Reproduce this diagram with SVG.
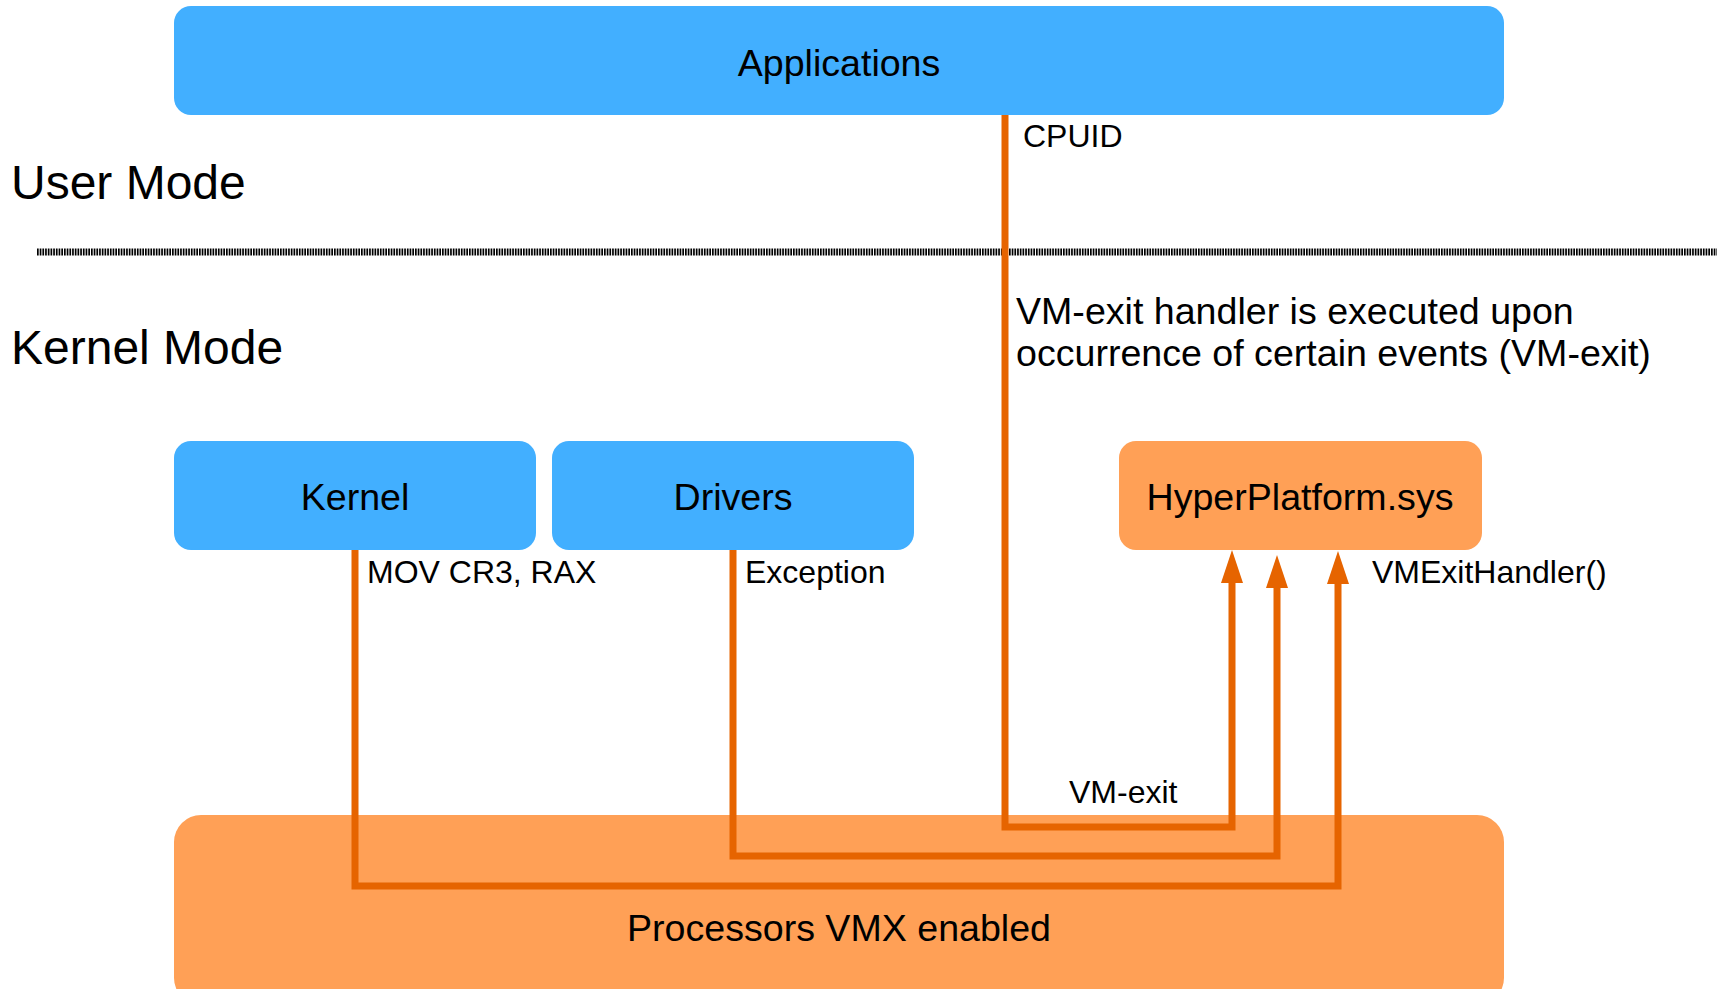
<svg xmlns="http://www.w3.org/2000/svg" width="1717" height="989" viewBox="0 0 1717 989">
  <style>
    .blue { fill: #42AFFF; }
    .orange { fill: #FFA056; }
    .t { font-family: "Liberation Sans", Arial, sans-serif; fill: #000; }
    .node { font-size: 37.6px; text-anchor: middle; }
    .mode { font-size: 48px; }
    .lbl { font-size: 32px; }
    .desc { font-size: 37.6px; }
    .conn { fill: none; stroke: #E66400; stroke-width: 7; stroke-linejoin: miter; }
  </style>
  <defs>
    <marker id="head" markerUnits="userSpaceOnUse" markerWidth="33" markerHeight="24" refX="0" refY="12" orient="auto" overflow="visible">
      <path d="M0,1 L33,12 L0,23 Z" fill="#E66400"/>
    </marker>
  </defs>
  <rect width="1717" height="989" fill="#FFFFFF"/>

  <g id="labels-modes">
    <text class="t mode" x="11" y="199">User Mode</text>
    <text class="t mode" x="11" y="364">Kernel Mode</text>
    <line x1="37" y1="252" x2="1717" y2="252" stroke="#000" stroke-width="7" stroke-dasharray="1.7 1"/>
  </g>

  <g id="applications">
    <rect class="blue" x="174" y="6" width="1330" height="109" rx="17"/>
    <text class="t node" x="839" y="76">Applications</text>
  </g>
  <g id="kernel">
    <rect class="blue" x="174" y="441" width="362" height="109" rx="17"/>
    <text class="t node" x="355" y="510">Kernel</text>
  </g>
  <g id="drivers">
    <rect class="blue" x="552" y="441" width="362" height="109" rx="17"/>
    <text class="t node" x="733" y="510">Drivers</text>
  </g>
  <g id="hyperplatform">
    <rect class="orange" x="1119" y="441" width="363" height="109" rx="17"/>
    <text class="t node" x="1300" y="510">HyperPlatform.sys</text>
  </g>
  <g id="processors">
    <rect class="orange" x="174" y="815" width="1330" height="190" rx="27"/>
    <text class="t node" x="839" y="941">Processors VMX enabled</text>
  </g>

  <g id="connectors">
    <path class="conn" d="M1005,115 V827 H1232 V583" marker-end="url(#head)"/>
    <path class="conn" d="M733,550 V856 H1277 V588" marker-end="url(#head)"/>
    <path class="conn" d="M355,550 V886 H1338 V584" marker-end="url(#head)"/>
  </g>

  <g id="connector-labels">
    <text class="t lbl" x="1023" y="147">CPUID</text>
    <text class="t lbl" x="367" y="583">MOV CR3, RAX</text>
    <text class="t lbl" x="745" y="583">Exception</text>
    <text class="t lbl" x="1069" y="803">VM-exit</text>
    <text class="t lbl" x="1372" y="583">VMExitHandler()</text>
    <text class="t desc" x="1016" y="324">VM-exit handler is executed upon</text>
    <text class="t desc" x="1016" y="366">occurrence of certain events (VM-exit)</text>
  </g>
</svg>
